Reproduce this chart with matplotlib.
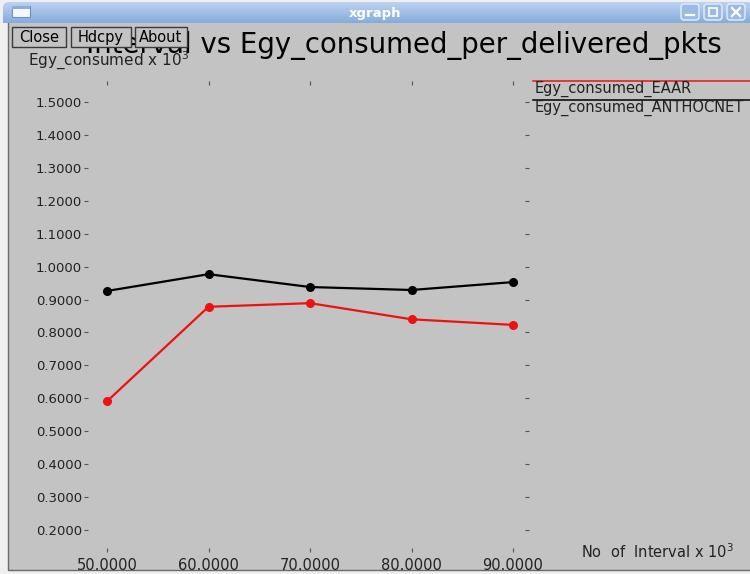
import numpy as np
import matplotlib.pyplot as plt
from matplotlib.patches import Rectangle, FancyBboxPatch
from matplotlib.colors import LinearSegmentedColormap

# data
intervals = [50, 60, 70, 80, 90]
egy_eaar = [0.591, 0.878, 0.889, 0.840, 0.823]
egy_anthocnet = [0.926, 0.977, 0.938, 0.929, 0.953]
series_names = ['Egy_consumed_EAAR', 'Egy_consumed_ANTHOCNET']
series_colors = ['#ee1111', 'black']
y_ticks = [0.2, 0.3, 0.4, 0.5, 0.6, 0.7, 0.8, 0.9, 1.0, 1.1, 1.2, 1.3, 1.4, 1.5]

W, H = 750, 574
PT = 72 / 100  # pixels -> points
GRAY = '#c3c3c3'

fig = plt.figure(figsize=(7.5, 5.74), dpi=100)
fig.patch.set_facecolor('#efefef')

# window chrome, drawn in pixel coords
bg = fig.add_axes([0, 0, 1, 1])
bg.set_autoscale_on(False)
bg.set_xlim(0, W)
bg.set_ylim(H, 0)
bg.axis('off')

bg.add_patch(Rectangle((8, 20), W, 550, facecolor=GRAY, edgecolor='#6a6a6a', lw=1, zorder=0))

# title bar
tb_cmap = LinearSegmentedColormap.from_list('tb', ['#bcd2f1', '#86abdc'])
grad = np.linspace(0, 1, 40)[:, None]
bar = bg.imshow(grad, cmap=tb_cmap, extent=(3, W + 10, 23, 2), aspect='auto', zorder=1)
clip = FancyBboxPatch((3, 2), W + 20, 40, boxstyle='round,pad=0,rounding_size=6',
                      transform=bg.transData, facecolor='none')
bar.set_clip_path(clip)
bg.set_xlim(0, W)
bg.set_ylim(H, 0)
bg.text(375, 13, 'xgraph', color='white', fontsize=9.5, fontweight='bold',
        ha='center', va='center', zorder=2)
bg.add_patch(Rectangle((12, 6), 18, 11, facecolor='#f4f7fc', edgecolor='#6f8fbf', lw=0.8, zorder=2))
bg.add_patch(Rectangle((12, 6), 18, 3, facecolor='#8eaede', edgecolor='none', zorder=2))
for bx in [681, 704, 727]:
    bg.add_patch(FancyBboxPatch((bx, 4), 18, 16, boxstyle='round,pad=0,rounding_size=3',
                                facecolor='#9bbbe6', edgecolor='#e6eefa', lw=1, zorder=2))
bg.plot([686, 694], [15, 15], color='white', lw=1.6, zorder=3)
bg.add_patch(Rectangle((709, 8), 8, 8, facecolor='none', edgecolor='white', lw=1.2, zorder=3))
bg.plot([732, 740], [8, 16], color='white', lw=1.6, zorder=3)
bg.plot([732, 740], [16, 8], color='white', lw=1.6, zorder=3)

# title (partly hidden by the buttons, as in xgraph)
bg.text(404, 45, 'Interval vs Egy_consumed_per_delivered_pkts', fontsize=19.8,
        ha='center', va='center', color='black', zorder=3)

for lab, x0, x1 in [('Close', 12, 66), ('Hdcpy', 71, 131), ('About', 135, 187)]:
    bg.add_patch(Rectangle((x0, 27), x1 - x0, 20, facecolor=GRAY, edgecolor='#3a3a3a',
                           lw=1, zorder=5))
    bg.text((x0 + x1) / 2, 37.5, lab, fontsize=10.5, ha='center', va='center', zorder=6)

# axis titles
bg.text(28, 66, 'Egy_consumed x 10$^3$', fontsize=11, va='baseline', color='#222222', zorder=3)
bg.text(581, 558, 'No  of  Interval x 10$^3$', fontsize=10.5, va='baseline', color='#222222', zorder=3)

# legend (xgraph style: a line above each name)
for i, (name, col) in enumerate(zip(series_names, series_colors)):
    y = 80.5 + 19 * i
    bg.plot([533, W], [y, y], color=col, lw=1.1, zorder=3)
    bg.text(535, y + 12.5, name, fontsize=10.5, va='baseline', color='#222222', zorder=3)

# plotting area
ax = fig.add_axes([107 / W, 44 / H, 406 / W, 428 / H])
ax.patch.set_alpha(0)
ax.set_xlim(min(intervals), max(intervals))
ax.set_ylim(min(y_ticks), max(y_ticks))

for side, px in [('left', 19), ('right', 12), ('top', 17), ('bottom', 18)]:
    ax.spines[side].set_position(('outward', px * PT))
    ax.spines[side].set_color('none')

ax.set_xticks(intervals)
ax.set_xticklabels(['%.4f' % v for v in intervals])
ax.set_yticks(y_ticks)
ax.set_yticklabels(['%.4f' % v for v in y_ticks])
ax.tick_params(direction='out', length=3.2, width=0.8, color='#555555',
               top=True, right=True, labeltop=False, labelright=False, labelcolor='#222222')
ax.tick_params(axis='y', pad=1, labelsize=9.5)
ax.tick_params(axis='x', pad=4, labelsize=10.5)

ax.plot(intervals, egy_anthocnet, color=series_colors[1], lw=1.6, marker='o', ms=5.5,
        clip_on=False, zorder=3)
ax.plot(intervals, egy_eaar, color=series_colors[0], lw=1.6, marker='o', ms=5.5,
        clip_on=False, zorder=3)

fig.savefig('out.png', dpi=100, facecolor=fig.get_facecolor())
